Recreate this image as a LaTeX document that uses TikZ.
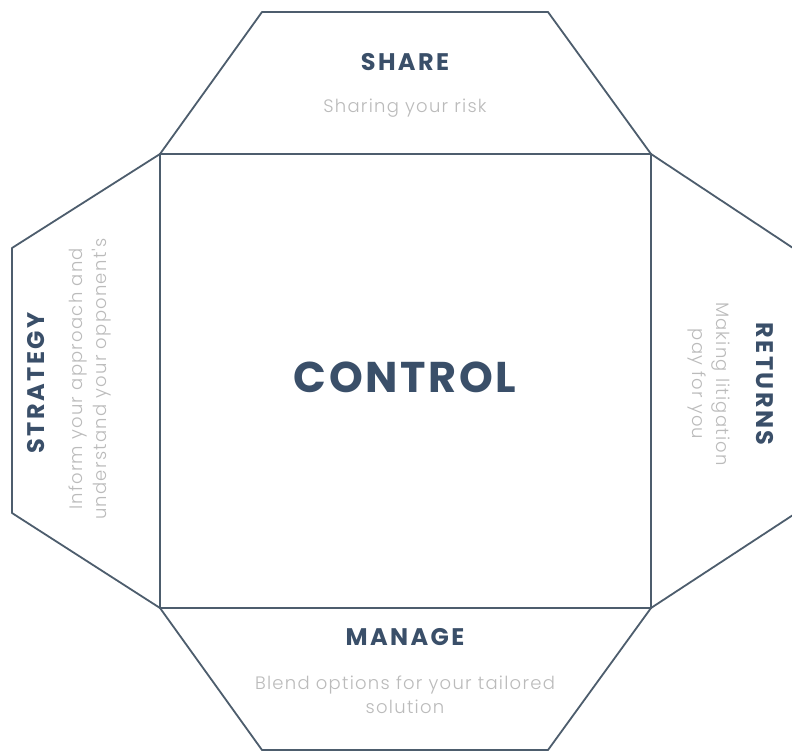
\documentclass[tikz,border=0pt]{standalone}
\usepackage{fontspec}
\setmainfont{Poppins}
\newfontfamily\titlefont{Poppins}[LetterSpace=10]
\newfontfamily\bigfont{Poppins}[LetterSpace=6]
\newfontfamily\subfont{Poppins}[UprightFont={* Light},LetterSpace=7]
\definecolor{edge}{HTML}{4D5D6D}
\definecolor{titlec}{HTML}{3A4F69}
\definecolor{subc}{HTML}{BBBBBB}
\begin{document}
\begin{tikzpicture}[x=1pt,y=-1pt,
  outline/.style={draw=edge,line width=1.8pt,line join=round},
  inner/.style={draw=edge,line width=1.4pt},
  ttl/.style={text=titlec,font=\titlefont\fontsize{24}{28}\selectfont\bfseries,inner sep=0pt},
  big/.style={text=titlec,font=\bigfont\fontsize{43}{48}\selectfont\bfseries,inner sep=0pt},
  sub/.style={text=subc,font=\subfont\fontsize{18}{24}\selectfont,inner sep=0pt,align=center}]
\useasboundingbox (0,0) rectangle (792,750);
\fill[white] (0,0) rectangle (792,750);
\coordinate (A) at (160,154);
\coordinate (B) at (651,154);
\coordinate (C) at (651,608);
\coordinate (D) at (160,608);
\coordinate (T1) at (262,12);
\coordinate (T2) at (548,12);
\coordinate (L1) at (12,248);
\coordinate (L2) at (12,513);
\coordinate (R1) at (793,248);
\coordinate (R2) at (793,515);
\coordinate (B1) at (262,750);
\coordinate (B2) at (548,750);
\draw[outline] (T1) -- (T2) -- (B) -- (R1) -- (R2) -- (C) -- (B2) -- (B1) -- (D) -- (L2) -- (L1) -- (A) -- cycle;
\draw[inner] (A) rectangle (C);
\node[ttl] (share) at (405,62) {SHARE};
\node[sub] (sharesub) at (405,108) {Sharing your risk};
\node[big] (control) at (405,377) {CONTROL};
\node[ttl] (manage) at (405,637) {MANAGE};
\node[sub] (managesub) at (405,695) {Blend options for your tailored\\solution};
\node[ttl,rotate=90] (strategy) at (36,383) {STRATEGY};
\node[sub,rotate=90] (strategysub) at (90,379) {Inform your approach and\\understand your opponent's};
\node[ttl,rotate=-90] (returns) at (765,384) {RETURNS};
\node[sub,rotate=-90] (returnssub) at (709,384) {Making litigation\\pay for you};
\end{tikzpicture}
\end{document}
